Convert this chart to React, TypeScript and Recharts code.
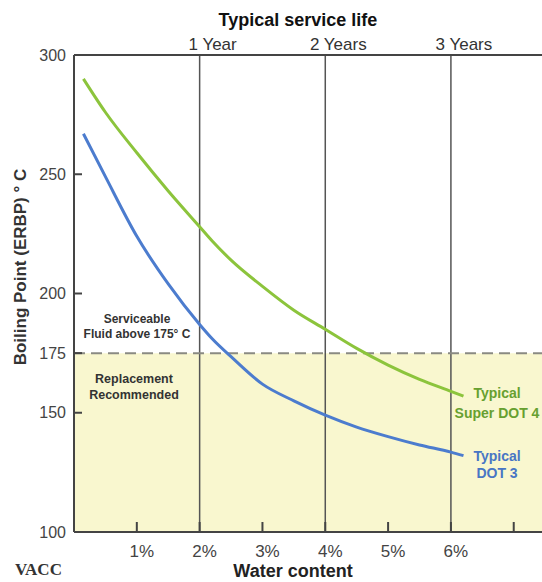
import React from 'react';
import {
  LineChart,
  Line,
  XAxis,
  YAxis,
  ReferenceLine,
  ReferenceArea,
} from 'recharts';

// water content (% by volume) where the curves were read
const waterContent = [0.15, 0.5, 1, 1.5, 2, 2.2, 2.5, 3, 3.5, 4, 4.5, 5, 5.5, 6, 6.2];
// equilibrium reflux boiling point, deg C
const superDot4 = [290, 276, 259, 243, 228, 222, 214, 203, 193, 185, 177, 170, 164, 159, 157];
const dot3 = [267, 249, 224, 204, 187, 181, 173.5, 162, 155, 149, 144, 140, 136.5, 133.5, 132];

const waterTicks = [1, 2, 3, 4, 5, 6, 7];
const waterTickLabels = ['1%', '2%', '3%', '4%', '5%', '6%', ''];
const yearTicks = [2, 4, 6];
const yearLabels = ['1 Year', '2 Years', '3 Years'];
const boilingTicks = [100, 150, 175, 200, 250, 300];
const replacementLimit = 175;

const data = waterContent.map((w, i) => ({ water: w, dot4: superDot4[i], dot3: dot3[i] }));

const X_MAX = 7.45;
const AXIS = '#444';
const GREEN = '#8cc43c';
const BLUE = '#4c7cce';
const SANS = 'Liberation Sans, Arial, sans-serif';

const overlay: React.CSSProperties = {
  position: 'absolute',
  fontFamily: SANS,
  fontWeight: 700,
  textAlign: 'center',
  whiteSpace: 'nowrap',
};

const App = () => {
  return (
    <div style={{ position: 'relative', width: 542, height: 582, overflow: 'hidden' }}>
      <style>{'body{margin:0}'}</style>
      <LineChart width={542} height={582} data={data} margin={{ top: 0, right: 0, bottom: 0, left: 0 }}>
        <ReferenceArea
          xAxisId="bottom"
          x1={0}
          x2={X_MAX}
          y1={100}
          y2={replacementLimit}
          fill="#f9f7cf"
          fillOpacity={1}
          stroke="none"
        />
        <XAxis
          xAxisId="top"
          orientation="top"
          type="number"
          dataKey="water"
          domain={[0, X_MAX]}
          allowDataOverflow
          ticks={yearTicks}
          tickFormatter={(v) => yearLabels[yearTicks.indexOf(v)] ?? ''}
          height={55}
          tickLine={false}
          tickSize={0}
          tickMargin={5}
          axisLine={{ stroke: AXIS, strokeWidth: 2 }}
          tick={{ fill: '#333', fontSize: 17, fontFamily: SANS, dx: 13 }}
          label={{
            value: 'Typical service life',
            position: 'insideTop',
            offset: 13,
            dx: -10,
            fill: '#111',
            fontSize: 18,
            fontWeight: 700,
            fontFamily: SANS,
          }}
        />
        <XAxis
          xAxisId="bottom"
          orientation="bottom"
          type="number"
          dataKey="water"
          domain={[0, X_MAX]}
          allowDataOverflow
          ticks={waterTicks}
          tickFormatter={(v) => waterTickLabels[waterTicks.indexOf(v)] ?? ''}
          height={50}
          tickSize={-10}
          tickMargin={23}
          tickLine={{ stroke: AXIS, strokeWidth: 2 }}
          axisLine={{ stroke: AXIS, strokeWidth: 2 }}
          tick={{ fill: '#444', fontSize: 17, fontFamily: SANS, dx: 5 }}
          label={{
            value: 'Water content',
            position: 'insideBottom',
            offset: 5,
            dx: -15,
            fill: '#222',
            fontSize: 18,
            fontWeight: 700,
            fontFamily: SANS,
          }}
        />
        <YAxis
          type="number"
          domain={[100, 300]}
          ticks={boilingTicks}
          width={74}
          tickSize={-8}
          tickMargin={16}
          tickLine={{ stroke: AXIS, strokeWidth: 2 }}
          axisLine={{ stroke: AXIS, strokeWidth: 2 }}
          tick={{ fill: '#444', fontSize: 16, fontFamily: SANS }}
          label={{
            content: () => (
              <text
                x={20}
                y={267}
                transform="rotate(-90 20 267)"
                textAnchor="middle"
                dominantBaseline="central"
                fill="#333"
                fontSize={17}
                fontWeight={700}
                fontFamily={SANS}
              >
                Boiling Point (ERBP) ° C
              </text>
            ),
          }}
        />
        {yearTicks.map((x) => (
          <ReferenceLine key={x} xAxisId="bottom" x={x} stroke="#555" strokeWidth={1.5} />
        ))}
        <ReferenceLine
          xAxisId="bottom"
          y={replacementLimit}
          stroke="#8a8a82"
          strokeWidth={2}
          strokeDasharray="11 6"
        />
        <Line
          xAxisId="bottom"
          type="monotone"
          dataKey="dot4"
          stroke={GREEN}
          strokeWidth={3}
          dot={false}
          isAnimationActive={false}
        />
        <Line
          xAxisId="bottom"
          type="monotone"
          dataKey="dot3"
          stroke={BLUE}
          strokeWidth={3}
          dot={false}
          isAnimationActive={false}
        />
      </LineChart>

      <div style={{ ...overlay, left: 74, width: 126, top: 312, fontSize: 12, lineHeight: '15px', color: '#333' }}>
        Serviceable
        <br />
        Fluid above 175° C
      </div>
      <div style={{ ...overlay, left: 70, width: 128, top: 371, fontSize: 12.5, lineHeight: '16px', color: '#333' }}>
        Replacement
        <br />
        Recommended
      </div>
      <div style={{ ...overlay, left: 450, width: 94, top: 383, fontSize: 14, lineHeight: '20px', color: '#67a030' }}>
        Typical
        <br />
        Super DOT 4
      </div>
      <div style={{ ...overlay, left: 450, width: 94, top: 448, fontSize: 14, lineHeight: '17px', color: '#4876c4' }}>
        Typical
        <br />
        DOT 3
      </div>
      <div
        style={{
          position: 'absolute',
          left: 15,
          top: 559,
          fontFamily: 'Liberation Serif, Times New Roman, serif',
          fontSize: 17,
          fontWeight: 700,
          color: '#333',
          lineHeight: '22px',
        }}
      >
        VACC
      </div>
    </div>
  );
};

export default App;
